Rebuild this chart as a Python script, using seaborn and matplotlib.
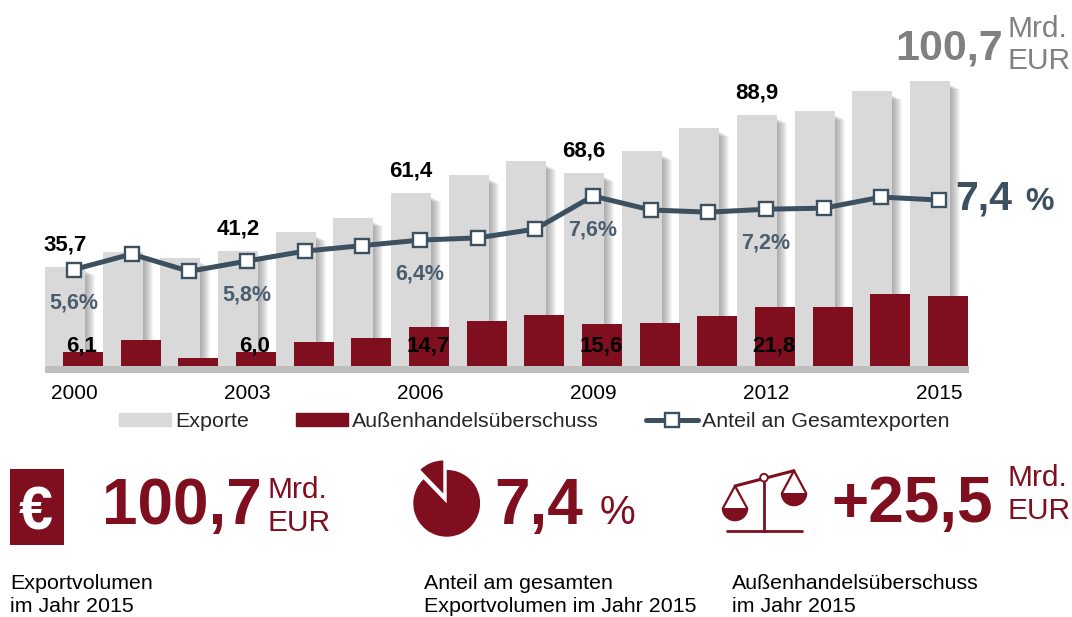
import numpy as np
import pandas as pd
import matplotlib.pyplot as plt
import seaborn as sns
from matplotlib.lines import Line2D
from matplotlib.patches import Patch, Rectangle, Wedge, Circle

years = list(range(2000, 2016))
exports = [35.7, 40.9, 38.7, 41.2, 47.9, 52.8, 61.4, 67.8, 72.7, 68.6, 76.2, 84.3, 88.9, 90.2, 97.2, 100.7]
surplus = [6.1, 10.0, 4.0, 6.0, 9.4, 10.8, 14.7, 16.8, 18.9, 15.6, 16.1, 18.5, 21.8, 21.7, 26.2, 25.4]
share = [5.6, 6.02, 5.55, 5.83, 6.1, 6.25, 6.4, 6.46, 6.7, 7.6, 7.22, 7.16, 7.24, 7.27, 7.57, 7.49]
tick_years = [2000, 2003, 2006, 2009, 2012, 2015]
labelled_years = [2000, 2003, 2006, 2009, 2012]
export_labels = ['35,7', '41,2', '61,4', '68,6', '88,9']
surplus_labels = ['6,1', '6,0', '14,7', '15,6', '21,8']
share_labels = ['5,6%', '5,8%', '6,4%', '7,6%', '7,2%']

MAROON = '#7f0f1e'
GREY = '#d9d9d9'
BAND = '#bfbfbf'
SLATE = '#3c5060'
SLATE_TXT = '#4a5d6e'
MUTED = '#808080'

sns.set_theme(style='white')
plt.rcParams['font.family'] = ['Liberation Sans', 'DejaVu Sans']

W, H = 1072, 617
fig = plt.figure(figsize=(W / 100, H / 100), dpi=100)

# chart axes, scales worked out from the bar heights in pixels
px_x = 57.67
px_y = 2.86
x0, y0, axes_bottom = 74, 369, 373
ax = fig.add_axes([0, 1 - axes_bottom / H, 1, axes_bottom / H])
ax.patch.set_alpha(0)

df = pd.DataFrame({'year': years, 'exports': exports, 'surplus': surplus, 'share': share})
shift = 9 / px_x
bar_w = 40 / px_x
df['x_exports'] = df['year'] - shift
df['x_surplus'] = df['year'] + shift

# soft shadow right of the grey bars, stacked strips so the darkness builds up at the bar edge
shadow_px = 11
for k in range(1, shadow_px + 1):
    ax.bar(df['x_exports'] + bar_w / 2 - 1 / px_x + k / (2 * px_x), df['exports'] - (3 + k / 2) / px_y,
           width=k / px_x, color='#555555', alpha=0.06, linewidth=0, zorder=1.5)

sns.barplot(data=df, x='x_exports', y='exports', native_scale=True, width=bar_w, color=GREY,
            saturation=1, errorbar=None, linewidth=0, zorder=2, ax=ax)
sns.barplot(data=df, x='x_surplus', y='surplus', native_scale=True, width=bar_w, color=MAROON,
            saturation=1, errorbar=None, linewidth=0, zorder=3, ax=ax)

ax.set_xlim(years[0] - x0 / px_x, years[0] + (W - x0) / px_x)
ax.set_ylim((y0 - axes_bottom) / px_y, y0 / px_y)
ax.add_patch(Rectangle((years[0] - shift - bar_w / 2, (y0 - axes_bottom) / px_y),
                       (969 - 45) / px_x, 7 / px_y, color=BAND, linewidth=0, zorder=4))
ax.set_xticks(tick_years)
ax.set_xticklabels([str(y) for y in tick_years], fontsize=15, color='black')
ax.tick_params(axis='x', length=0, pad=8)
ax.set_yticks([])
ax.set_xlabel('')
ax.set_ylabel('')
sns.despine(ax=ax, left=True, bottom=True)

for yr, lab in zip(labelled_years, export_labels):
    val = exports[years.index(yr)]
    ax.annotate(lab, (yr - shift, val), xytext=(0, 12), textcoords='offset points', ha='center',
                va='baseline', fontsize=16, fontweight='bold', color='black', zorder=6)
for yr, lab in zip(labelled_years, surplus_labels):
    ax.text(yr + shift - 1 / px_x, 17 / px_y, lab, ha='center', va='baseline', fontsize=16,
            fontweight='bold', color='black', zorder=6)

# share line on its own scale
px_share = 36.75
ax2 = ax.twinx()
ax2.set_ylim(5.6 - (axes_bottom - 269.5) / px_share, 5.6 + 269.5 / px_share)
sns.lineplot(data=df, x='year', y='share', color=SLATE, linewidth=3.6, marker='s', markersize=10,
             markerfacecolor='white', markeredgecolor=SLATE, markeredgewidth=1.7, ax=ax2)
ax2.set_yticks([])
ax2.set_ylabel('')
ax2.set_xlabel('')
sns.despine(ax=ax2, left=True, bottom=True, right=True)
ax2.set_xlim(ax.get_xlim())
for yr, lab in zip(labelled_years, share_labels):
    val = share[years.index(yr)]
    ax2.annotate(lab, (yr, val), xytext=(0, -24.4), textcoords='offset points', ha='center',
                 va='center', fontsize=15.5, fontweight='bold', color=SLATE_TXT)

handles = [Patch(color=GREY, label='Exporte'),
           Patch(color=MAROON, label='Außenhandelsüberschuss'),
           Line2D([0], [0], color=SLATE, linewidth=3.6, marker='s', markersize=10, markerfacecolor='white',
                  markeredgecolor=SLATE, markeredgewidth=1.7, label='Anteil an Gesamtexporten')]
fig.legend(handles=handles, ncol=3, loc='center left', bbox_to_anchor=(119 / W, 1 - 421.5 / H), frameon=False,
           fontsize=15.4, handlelength=2.43, handleheight=0.55, handletextpad=0.2, columnspacing=2.2,
           borderaxespad=0, borderpad=0)

# everything else sits on a pixel overlay
ov = fig.add_axes([0, 0, 1, 1])
ov.set_xlim(0, W)
ov.set_ylim(H, 0)
ov.axis('off')
ov.patch.set_alpha(0)


def label(x, y, s, size, color, weight='normal', ha='left'):
    ov.text(x, y, s, fontsize=size, color=color, fontweight=weight, ha=ha, va='baseline')


# top right callouts
label(895, 59, '100,7', 31, MUTED, 'bold')
label(1008, 37, 'Mrd.', 21.5, MUTED)
label(1008, 69, 'EUR', 21.5, MUTED)
label(955, 210, '7,4', 29.5, SLATE, 'bold')
label(1025, 210, '%', 23, SLATE, 'bold')

# lower row
ov.add_patch(Rectangle((10, 469), 54, 76, color=MAROON, linewidth=0))
ov.text(35.5, 530, '€', fontsize=44, color='white', fontweight='bold', ha='center', va='baseline')
label(102, 523.5, '100,7', 46, MAROON, 'bold')
label(267, 497.5, 'Mrd.', 21.5, MAROON)
label(267, 531, 'EUR', 21.5, MAROON)

ov.add_patch(Wedge((446.7, 503.3), 33.4, -90, 226, color=MAROON, linewidth=0))
ov.add_patch(Wedge((443.3, 493.5), 33, -134, -90, color=MAROON, linewidth=0))
label(494, 524, '7,4', 46, MAROON, 'bold')
label(600, 524, '%', 29, MAROON)

# scales icon
ic = dict(color=MAROON, linewidth=1.6, solid_capstyle='round')
ov.plot([735, 794], [486, 470.7], linewidth=2.2, color=MAROON)
ov.plot([764, 764], [482, 531], linewidth=2, color=MAROON)
ov.plot([727, 802], [531, 531], linewidth=2, color=MAROON)
ov.add_patch(Circle((764, 477.7), 3.8, facecolor='white', edgecolor=MAROON, linewidth=1.4, zorder=5))
ov.plot([723, 735, 747], [508, 486, 508], **ic)
ov.plot([782, 794, 806], [493, 470.7, 493], **ic)
ov.add_patch(Wedge((735, 508), 13.3, 0, 180, color=MAROON, linewidth=0))
ov.add_patch(Wedge((794, 493), 13.3, 0, 180, color=MAROON, linewidth=0))
label(831, 522, '+25,5', 46, MAROON, 'bold')
label(1008, 486, 'Mrd.', 21.5, MAROON)
label(1008, 519, 'EUR', 21.5, MAROON)

label(10, 589, 'Exportvolumen', 15.4, 'black')
label(10, 612.5, 'im Jahr 2015', 15.4, 'black')
label(424, 589, 'Anteil am gesamten', 15.4, 'black')
label(424, 612.5, 'Exportvolumen im Jahr 2015', 15.4, 'black')
label(732, 589, 'Außenhandelsüberschuss', 15.4, 'black')
label(732, 612.5, 'im Jahr 2015', 15.4, 'black')

fig.savefig('out.png', dpi=100)
